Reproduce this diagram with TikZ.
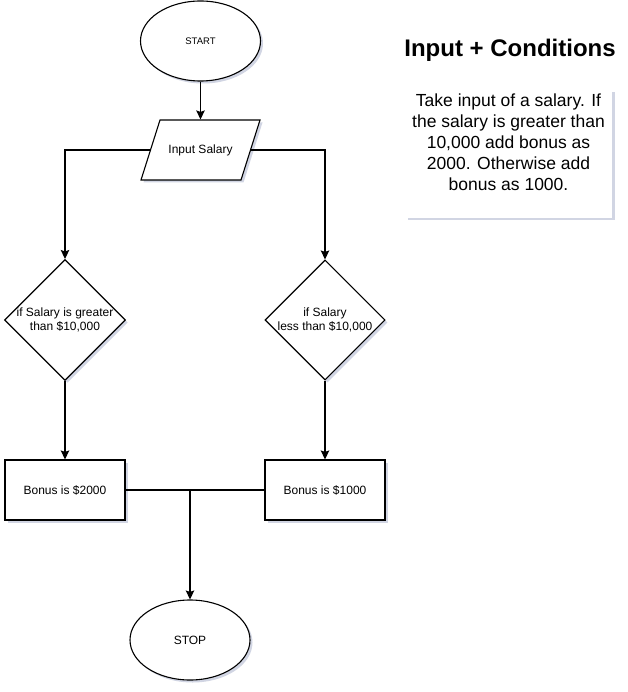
\documentclass[tikz,border=0pt]{standalone}
\usepackage{fontspec}
\setmainfont{Liberation Sans}
\usetikzlibrary{shapes.geometric,shadows,arrows.meta}
\definecolor{shadowblue}{RGB}{140,150,185}

\begin{document}
\begin{tikzpicture}[x=1pt, y=1pt, line width=1.1pt,
    flow/.style={-{Stealth[length=9pt,width=8.5pt,inset=1.5pt]}},
    softshadow/.style={drop shadow={shadow xshift=2.5pt, shadow yshift=-2.5pt, fill=shadowblue, opacity=0.4}},
    terminal/.style={ellipse, draw, fill=white, softshadow, minimum width=120pt, minimum height=80pt, inner sep=0pt},
    decision/.style={diamond, draw, fill=white, softshadow, minimum width=120pt, minimum height=120pt, aspect=1, inner sep=0pt, align=center, font=\fontsize{12}{14}\selectfont},
    process/.style={rectangle, draw, fill=white, softshadow, minimum width=120pt, minimum height=60pt, inner sep=0pt, font=\fontsize{12}{14}\selectfont}]
    \fill[white] (0, 0) rectangle (627, -692);
    \useasboundingbox (0, 0) rectangle (627, -692);

    % input parallelogram
    \draw[fill=white, softshadow] (160, -120) -- (260, -120) -- (241, -180) -- (141, -180) -- cycle;
    \node[minimum width=100pt, minimum height=60pt, inner sep=0pt, font=\fontsize{12}{14}\selectfont] (salary) at (200.5, -150) {Input Salary};

    \node[terminal, font=\fontsize{9.5}{11}\selectfont] (start) at (200.5, -41) {START};
    \node[decision] (greater) at (65, -320) {if Salary is greater\\than \$10,000};
    \node[decision] (less) at (325, -320) {if Salary\\less than \$10,000};
    \node[process] (bonushigh) at (65, -490) {Bonus is \$2000};
    \node[process] (bonuslow) at (325, -490) {Bonus is \$1000};
    \node[terminal, font=\fontsize{12}{14}\selectfont] (stop) at (190, -640) {STOP};
    \coordinate (join) at (190, -490);

    \draw[flow] (start) -- (salary);
    \draw[flow] (salary.west) -| (greater.north);
    \draw[flow] (salary.east) -| (less.north);
    \draw[flow] (greater) -- (bonushigh);
    \draw[flow] (less) -- (bonuslow);
    \draw (bonushigh) -- (bonuslow);
    \draw[flow] (join) -- (stop);

    \node[font=\fontsize{24}{28}\bfseries] (title) at (510, -50) {Input + Conditions};
    \node[fill=white, softshadow, minimum width=207pt, minimum height=128pt] (notebox) at (508.5, -154) {};
    \node[anchor=north, inner sep=0pt, align=center, font=\fontsize{17.5}{21}\selectfont] (note) at (508.5, -93)
        {Take input of a salary. If\\the salary is greater than\\10,000 add bonus as\\2000. Otherwise add\\bonus as 1000.};
\end{tikzpicture}
\end{document}
